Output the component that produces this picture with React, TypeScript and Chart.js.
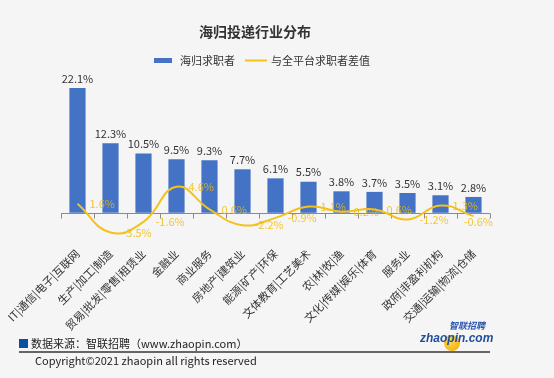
import React, { useEffect, useRef } from "react";
import { Chart, registerables } from "chart.js";

Chart.register(...registerables);

const chartTitle = "海归投递行业分布";
const seriesNames = ["海归求职者", "与全平台求职者差值"];
const categories = [
  "IT|通信|电子|互联网",
  "生产|加工|制造",
  "贸易|批发|零售|租赁业",
  "金融业",
  "商业服务",
  "房地产|建筑业",
  "能源|矿产|环保",
  "文体教育|工艺美术",
  "农|林|牧|渔",
  "文化|传媒|娱乐|体育",
  "服务业",
  "政府|非盈利机构",
  "交通|运输|物流|仓储",
];
const returneeShare = [22.1, 12.3, 10.5, 9.5, 9.3, 7.7, 6.1, 5.5, 3.8, 3.7, 3.5, 3.1, 2.8];
const diffFromPlatform = [1.6, -3.5, -1.6, 4.6, 0.6, -2.2, -0.9, 1.1, 0.2, 0.6, -1.2, 1.3, -0.6];
const sourceText = "数据来源：智联招聘（www.zhaopin.com）";
const copyrightText = "Copyright©2021 zhaopin all rights reserved";

const BLUE = "#4472C4";
const GOLD = "#F4C21B";
const LABEL_GOLD = "rgba(240,188,10,0.82)";
const FONT = "'Noto Sans CJK SC', 'Noto Sans', sans-serif";

const headerPlugin = {
  id: "header",
  afterDraw(chart: any) {
    const ctx = chart.ctx;
    ctx.save();
    ctx.fillStyle = "#333";
    ctx.font = `bold 14px ${FONT}`;
    ctx.textAlign = "center";
    ctx.textBaseline = "middle";
    ctx.fillText(chartTitle, 255, 32);

    ctx.font = `11px ${FONT}`;
    const w1 = ctx.measureText(seriesNames[0]).width;
    const w2 = ctx.measureText(seriesNames[1]).width;
    const total = 18 + 8 + w1 + 10 + 22 + 4 + w2;
    let x = 262 - total / 2;
    const y = 60.5;
    ctx.fillStyle = BLUE;
    ctx.fillRect(x, y - 2.5, 18, 5);
    x += 18 + 8;
    ctx.fillStyle = "#333";
    ctx.textAlign = "left";
    ctx.fillText(seriesNames[0], x, y);
    x += w1 + 10;
    ctx.strokeStyle = GOLD;
    ctx.lineWidth = 2;
    ctx.beginPath();
    ctx.moveTo(x, y);
    ctx.lineTo(x + 22, y);
    ctx.stroke();
    x += 22 + 4;
    ctx.fillText(seriesNames[1], x, y);
    ctx.restore();
  },
};

const axisPlugin = {
  id: "zeroAxis",
  beforeDatasetsDraw(chart: any) {
    const { ctx, chartArea, scales } = chart;
    const y0 = Math.round(scales.y.getPixelForValue(0)) + 0.5;
    const n = categories.length;
    const step = (chartArea.right - chartArea.left) / n;
    ctx.save();
    ctx.strokeStyle = "#8a8a8a";
    ctx.lineWidth = 1;
    ctx.beginPath();
    ctx.moveTo(chartArea.left, y0);
    ctx.lineTo(chartArea.right, y0);
    for (let i = 0; i <= n; i++) {
      const x = Math.round(chartArea.left + i * step) + 0.5;
      ctx.moveTo(x, y0);
      ctx.lineTo(x, y0 + 5);
    }
    ctx.stroke();
    ctx.restore();
  },
};

const labelPlugin = {
  id: "valueLabels",
  afterDatasetsDraw(chart: any) {
    const ctx = chart.ctx;
    const { chartArea } = chart;
    ctx.save();
    ctx.font = `11px ${FONT}`;
    // bar labels
    const barMeta = chart.getDatasetMeta(1);
    ctx.fillStyle = "#333";
    ctx.textAlign = "center";
    ctx.textBaseline = "bottom";
    barMeta.data.forEach((el: any, i: number) => {
      ctx.fillText(`${returneeShare[i]}%`, el.x, el.y - 4);
    });
    // line labels
    const lineMeta = chart.getDatasetMeta(0);
    ctx.fillStyle = LABEL_GOLD;
    ctx.textAlign = "left";
    ctx.textBaseline = "middle";
    lineMeta.data.forEach((el: any, i: number) => {
      const txt = `${diffFromPlatform[i]}%`;
      const w = ctx.measureText(txt).width;
      let x = el.x + 12;
      let y = el.y;
      if (x + w > chartArea.right + 3) {
        x = chartArea.right + 3 - w;
        y += 6;
      }
      ctx.fillText(txt, x, y);
    });
    ctx.restore();
  },
};

export default function App() {
  const ref = useRef<HTMLCanvasElement | null>(null);

  useEffect(() => {
    if (!ref.current) return;
    const chart = new Chart(ref.current, {
      type: "bar",
      data: {
        labels: categories,
        datasets: [
          {
            type: "line",
            label: seriesNames[1],
            data: diffFromPlatform,
            borderColor: GOLD,
            borderWidth: 2,
            pointRadius: 0,
            tension: 0.45,
            fill: false,
            order: 0,
          } as any,
          {
            type: "bar",
            label: seriesNames[0],
            data: returneeShare,
            backgroundColor: BLUE,
            barPercentage: 0.49,
            categoryPercentage: 1,
            order: 1,
          },
        ],
      },
      options: {
        responsive: false,
        animation: false,
        devicePixelRatio: 1,
        layout: { padding: { left: 61, right: 64, top: 88, bottom: 0 } },
        plugins: {
          legend: { display: false },
          title: { display: false },
          tooltip: { enabled: false },
        },
        scales: {
          y: {
            display: false,
            min: -5,
            max: 22.1,
          },
          x: {
            grid: { display: false, drawTicks: false },
            border: { display: false },
            ticks: {
              color: "#333",
              font: { size: 11, family: FONT },
              minRotation: 45,
              maxRotation: 45,
              autoSkip: false,
              padding: 6,
            },
            afterFit: (scale: any) => {
              scale.height = 378 - 241;
            },
          },
        },
      },
      plugins: [axisPlugin, labelPlugin, headerPlugin],
    });
    return () => chart.destroy();
  }, []);

  const txt: React.CSSProperties = {
    position: "absolute",
    fontFamily: FONT,
    fontSize: 11,
    color: "#222",
    lineHeight: "14px",
    whiteSpace: "nowrap",
  };

  return (
    <div
      style={{
        position: "fixed",
        left: 0,
        top: 0,
        width: 554,
        height: 378,
        background: "#f5f5f5",
        overflow: "hidden",
      }}
    >
      <canvas ref={ref} width={554} height={378} style={{ position: "absolute", left: 0, top: 0, width: 554, height: 378 }} />
      <div style={{ position: "absolute", left: 19, top: 339, width: 9, height: 9, background: "#0b4ea2" }} />
      <div style={{ ...txt, left: 31, top: 336 }}>{sourceText}</div>
      <div style={{ position: "absolute", left: 19, top: 351, width: 471, height: 1.5, background: "#666" }} />
      <div style={{ ...txt, left: 35, top: 353 }}>{copyrightText}</div>
      <div
        style={{
          position: "absolute",
          left: 444,
          top: 335,
          width: 16,
          height: 16,
          borderRadius: 8,
          background: "radial-gradient(circle at 40% 40%, #ffd84a, #f2a900)",
        }}
      />
      <div
        style={{
          ...txt,
          left: 449,
          top: 321,
          fontSize: 9,
          lineHeight: "10px",
          fontWeight: 700,
          fontStyle: "italic",
          color: "#2a56b0",
        }}
      >
        智联招聘
      </div>
      <div
        style={{
          ...txt,
          left: 420,
          top: 332,
          fontFamily: "'Liberation Sans', Arial, sans-serif",
          fontSize: 12,
          lineHeight: "12px",
          fontWeight: 700,
          fontStyle: "italic",
          color: "#1f4e9c",
        }}
      >
        zhaopin.com
      </div>
    </div>
  );
}
